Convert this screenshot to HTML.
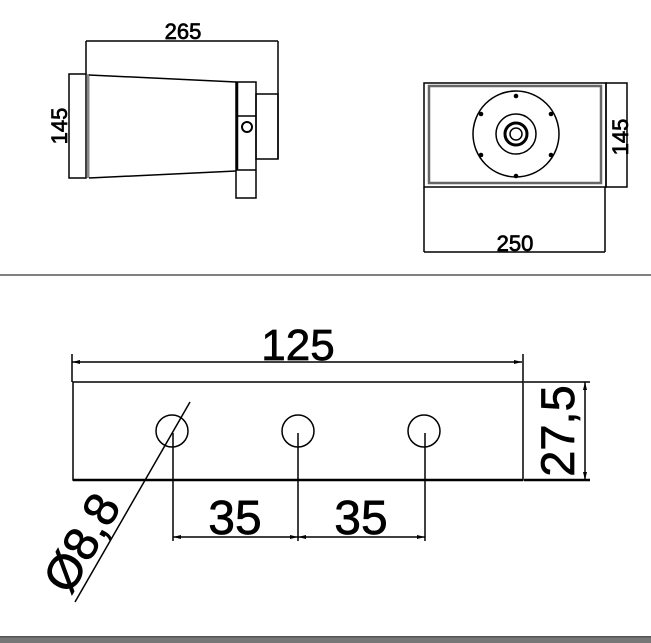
<!DOCTYPE html>
<html><head><meta charset="utf-8"><style>
html,body{margin:0;padding:0;background:#fff;}
svg{display:block;}
text{font-family:"Liberation Sans",sans-serif;fill:#000;stroke:#000;stroke-width:0.7;}
</style></head><body>
<svg width="651" height="643" viewBox="0 0 651 643" xmlns="http://www.w3.org/2000/svg">
<g fill="none" stroke="#000" stroke-width="1.5">
<line x1="86" y1="41" x2="278" y2="41"/>
<line x1="86" y1="41" x2="86" y2="75"/>
<line x1="278" y1="41" x2="278" y2="159"/>
<rect x="69" y="74" width="17" height="104"/>
<line x1="88" y1="74" x2="88" y2="178" stroke="#888" stroke-width="3"/>
<line x1="89" y1="75" x2="236" y2="82"/>
<line x1="89" y1="178" x2="236" y2="171"/>
<rect x="236" y="82" width="20" height="116"/>
<line x1="237" y1="82" x2="237" y2="170" stroke-width="2.5"/>
<line x1="236" y1="116" x2="256" y2="116"/>
<line x1="236" y1="170" x2="256" y2="170"/>
<circle cx="247" cy="127" r="5" stroke-width="2"/>
<rect x="256" y="94" width="22" height="65"/>
<rect x="424" y="83" width="182" height="104"/>
<rect x="429" y="86" width="172" height="97" stroke="#666" stroke-width="2.5"/>
<rect x="606" y="83" width="21" height="104"/>
<line x1="424" y1="187" x2="424" y2="252"/>
<line x1="605" y1="187" x2="605" y2="252"/>
<line x1="424" y1="252" x2="605" y2="252"/>
<circle cx="516" cy="134" r="43"/>
<circle cx="516" cy="134" r="20"/>
<circle cx="516" cy="134" r="11" stroke-width="3"/>
<circle cx="516" cy="134" r="6"/>
<line x1="0" y1="275" x2="651" y2="275" stroke-width="1"/>
<line x1="72" y1="362" x2="522" y2="362"/>
<line x1="72" y1="354" x2="72" y2="382"/>
<line x1="523" y1="354" x2="523" y2="382"/>
<rect x="73" y="382" width="450" height="98"/>
<line x1="73" y1="480" x2="523" y2="480" stroke-width="2.5"/>
<line x1="524" y1="382" x2="590" y2="382"/>
<line x1="524" y1="480" x2="590" y2="480" stroke-width="2.5"/>
<line x1="585" y1="382" x2="585" y2="480"/>
<circle cx="172" cy="431" r="16"/>
<circle cx="298" cy="431" r="16"/>
<circle cx="424" cy="431" r="16"/>
<line x1="173" y1="433" x2="173" y2="541"/>
<line x1="298" y1="433" x2="298" y2="541"/>
<line x1="425" y1="433" x2="425" y2="541"/>
<line x1="173" y1="537" x2="425" y2="537"/>
<line x1="190" y1="402" x2="75" y2="602"/>
</g>
<g fill="#000">
<circle cx="516" cy="96" r="2.3"/><circle cx="516" cy="176" r="2.3"/>
<circle cx="481" cy="114" r="2.3"/><circle cx="551" cy="114" r="2.3"/>
<circle cx="481" cy="155" r="2.3"/><circle cx="551" cy="155" r="2.3"/>
<polygon points="72,362 80,360 80,364"/><polygon points="522,362 514,360 514,364"/>
<polygon points="585,382 583,390 587,390"/><polygon points="585,480 583,472 587,472"/>
<polygon points="173,537 181,535 181,539"/><polygon points="298,537 290,535 290,539"/>
<polygon points="298,537 306,535 306,539"/><polygon points="425,537 417,535 417,539"/>
</g>
<rect x="0" y="636" width="651" height="7" fill="#777"/>
<rect x="0" y="636" width="651" height="1.5" fill="#555"/>
<text x="183" y="39" font-size="22" text-anchor="middle">265</text>
<text transform="translate(67,126) rotate(-90)" font-size="22" text-anchor="middle">145</text>
<text transform="translate(628,137) rotate(-90)" font-size="22" text-anchor="middle">145</text>
<text x="515" y="251" font-size="22" text-anchor="middle">250</text>
<text x="298" y="360" font-size="44" text-anchor="middle">125</text>
<text transform="translate(574,431) rotate(-90)" font-size="47" text-anchor="middle">27,5</text>
<text x="235" y="534" font-size="48" text-anchor="middle">35</text>
<text x="361" y="534" font-size="48" text-anchor="middle">35</text>
<text transform="translate(96,551) rotate(-60)" font-size="48" text-anchor="middle">Ø8,8</text>
</svg>
</body></html>
